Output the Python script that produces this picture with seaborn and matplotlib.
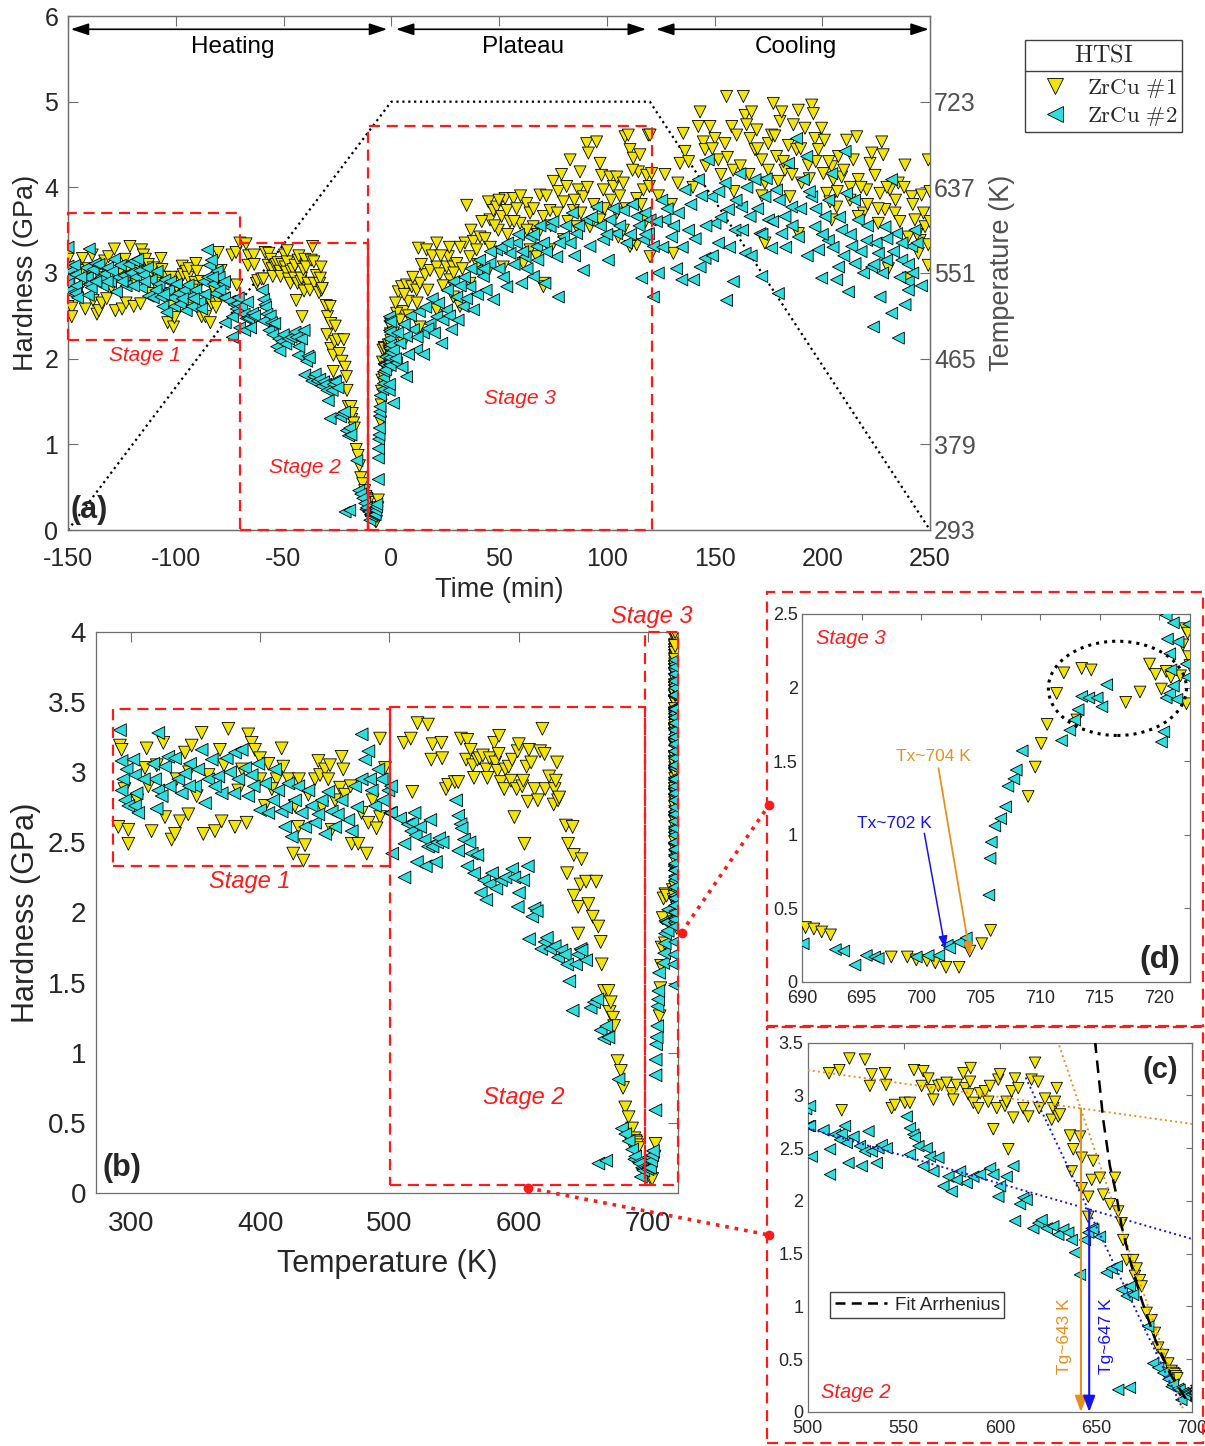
import numpy as np
import pandas as pd
import matplotlib
matplotlib.use("Agg")
import matplotlib.pyplot as plt
import seaborn as sns
from matplotlib.patches import Rectangle, Ellipse
from matplotlib.lines import Line2D
from matplotlib.ticker import FormatStrFormatter

sns.set_theme(style="white")
plt.rcParams["font.family"] = ["Liberation Sans", "DejaVu Sans"]
plt.rcParams["axes.unicode_minus"] = False
plt.rcParams["mathtext.fontset"] = "cm"

YELLOW = "#F2E500"
CYAN = "#2EDDDD"
ORANGE = "#E8901E"
BLUE = "#1414F0"
RED = "#FF1A1A"
SPINE = "#6E6E6E"
TXT = "#262626"

# ---------------- temperature program (dotted line in panel a) ----------------
prog_time = [-150, 0, 120, 250]
prog_temp = [293, 723, 723, 293]
plateau_temp = 721

# ---------------- Stage 1 (heating): (T [K], H [GPa]) ----------------
s1_zrcu1 = [(291.5,3.19),(292.8,3.16),(290.3,2.61),(298.0,2.59),(298.0,2.49),(312.2,3.17),(313.5,2.90),
            (316.0,2.58),(325.1,3.21),(326.4,2.68),(331.5,2.52),(334.1,2.56),(338.0,2.65),(341.8,3.14),
            (344.4,2.70),(347.0,3.19),(354.7,3.28),(356.0,2.56),(365.0,2.58),(368.9,3.16),(370.2,2.65),
            (375.4,3.31),(380.5,2.61),(383.1,2.87),(389.5,2.64),(390.8,3.27),(393.4,3.21),(396.0,3.16),
            (399.9,3.10),(403.7,2.76),(406.3,3.06),(412.8,2.95),(416.6,3.17),(417.9,3.04),(421.8,2.95),
            (425.6,2.42),(426.9,2.76),(429.5,2.61),(433.4,2.37),(434.7,2.48),(437.3,2.84),(442.4,2.95),
            (445.0,3.08),(446.3,2.98),(450.2,3.02),(452.7,2.95),(454.0,3.05),(455.3,2.59),(461.8,2.89),
            (463.0,3.11),(464.3,3.02),(465.6,2.84),(470.8,2.49),(475.9,2.49),(478.5,2.71),(482.4,2.42),
            (483.7,2.64),(492.7,3.24),(492.7,2.68),(496.6,3.03),(310.9,3.03),(335.4,2.95),(350.9,2.83),
            (295.0,2.88),(305.0,2.80),(360.0,2.98),(386.0,3.02),(409.0,2.88),(458.0,2.80),(487.0,2.80),
            (320.0,3.05),(345.0,3.00),(372.0,3.05),(400.0,2.95),(430.0,2.95),(448.0,2.75),(470.0,2.90),
            (490.0,2.60)]
s1_zrcu2 = [(291.5,3.30),(321.2,3.28),(478.5,3.27),(292.8,3.08),(296.7,3.02),(294.1,2.95),(292.8,2.87),
            (295.4,2.80),(298.0,2.76),(301.9,3.09),(303.1,2.98),(304.4,2.85),(303.1,2.76),(305.7,2.71),
            (317.3,3.06),(318.6,2.95),(321.2,2.87),(319.9,2.74),(323.8,2.83),(326.4,3.04),(328.9,3.11),
            (334.1,3.10),(336.7,2.95),(339.3,2.85),(341.8,2.99),(345.7,3.06),(349.6,2.90),(352.1,3.02),
            (354.7,3.16),(357.3,2.78),(359.9,2.95),(362.5,3.09),(367.6,2.97),(370.2,2.85),(374.1,3.10),
            (376.7,3.00),(380.5,3.14),(383.1,2.95),(385.7,3.16),(388.3,3.03),(390.8,2.83),(393.4,2.98),
            (398.6,3.06),(399.9,2.73),(403.7,2.92),(406.3,2.71),(411.5,3.02),(414.0,2.87),(416.6,2.72),
            (419.2,2.61),(421.8,2.92),(424.4,2.54),(426.9,2.80),(429.5,2.90),(432.1,2.71),(434.7,2.61),
            (437.3,2.87),(439.8,2.76),(442.4,2.64),(447.6,2.80),(450.2,2.56),(452.7,2.86),(455.3,2.72),
            (457.9,2.61),(463.0,2.80),(468.2,2.66),(470.8,2.58),(473.4,2.90),(478.5,2.95),(481.1,3.09),
            (483.7,3.15),(486.3,2.87),(488.8,2.76),(491.4,3.02),(494.0,2.95),(499.2,2.87),(500.4,2.71),
            (310.0,2.95),(330.0,2.90),(345.0,2.90),(365.0,2.90),(380.0,2.85),(395.0,2.90),(410.0,2.80),
            (420.0,2.75),(445.0,2.70),(460.0,2.70),(475.0,2.75),(485.0,2.95),(495.0,2.80)]

# ---------------- Stage 2 (heating) ----------------
s2_zrcu1 = [(511.1,3.21),(516.5,3.24),(521.7,3.35),(529.8,3.34),(533.3,3.20),(532.4,3.09),(540.2,3.21),
            (540.8,3.10),(517.7,2.86),(543.7,2.88),(545.4,2.91),(550.6,2.93),(553.2,2.93),(555.3,3.24),
            (560.2,3.23),(559.3,3.09),(562.8,3.16),(564.5,3.05),(565.4,2.96),(568.0,3.09),(569.7,3.10),
            (572.3,3.12),(574.9,3.02),(575.8,2.96),(577.5,3.10),(581.0,3.21),(581.9,3.07),(583.6,3.01),
            (584.5,3.13),(584.8,3.26),(586.2,2.93),(588.8,2.88),(589.7,3.02),(592.3,3.04),(594.0,2.94),
            (594.9,3.09),(596.6,2.68),(598.4,2.88),(599.2,3.15),(600.1,3.20),(602.7,2.90),(603.5,2.94),
            (604.4,2.49),(606.1,3.04),(607.0,2.79),(607.9,3.16),(609.6,3.07),(612.2,2.88),(614.8,2.80),
            (616.5,3.15),(618.3,3.31),(620.0,3.13),(620.5,2.88),(623.5,2.97),(627.0,2.77),(627.8,2.88),
            (628.7,2.94),(629.6,3.07),(630.4,2.80),(631.3,2.82),(636.5,2.62),(638.2,2.49),(637.4,2.28),
            (641.7,2.61),(642.6,2.41),(642.6,2.12),(646.0,2.04),(646.0,1.85),(647.8,2.20),(648.6,2.38),
            (652.1,2.22),(653.8,2.06),(657.3,1.97),(659.9,2.22),(661.6,1.90),(663.4,1.79),(664.2,1.63),
            (666.0,1.44),(669.4,1.44),(670.3,1.29),(671.2,1.36),(672.9,1.25),(673.8,1.19),(676.4,0.94),
            (679.0,0.87),(680.7,0.75),(682.4,0.61),(685.0,0.54),(685.9,0.37),(687.7,0.46),(689.4,0.39)]
s2_zrcu2 = [(501.2,2.90),(501.2,2.71),(502.1,2.42),(508.2,2.67),(511.6,2.49),(511.6,2.25),(514.2,2.63),
            (516.8,2.58),(517.7,2.64),(519.4,2.71),(520.3,2.55),(521.2,2.36),(523.8,2.61),(527.2,2.52),
            (528.1,2.33),(529.8,2.47),(531.6,2.66),(533.3,2.47),(535.9,2.36),(536.8,2.50),(538.5,2.53),
            (541.1,2.50),(551.5,2.80),(553.2,2.69),(555.0,2.63),(555.8,2.60),(553.2,2.44),(557.6,2.52),
            (560.2,2.33),(561.9,2.50),(563.6,2.42),(565.4,2.28),(568.0,2.41),(570.6,2.14),(573.2,2.23),
            (574.9,2.09),(577.5,2.20),(579.3,2.28),(582.7,2.17),(586.2,2.23),(589.7,2.25),(594.9,2.31),
            (596.6,2.25),(599.2,2.04),(600.1,2.14),(603.5,2.23),(607.0,2.33),(607.9,1.81),(610.5,1.97),
            (612.2,2.03),(613.9,2.01),(617.4,1.74),(620.0,1.79),(621.7,1.82),(624.4,1.74),(627.8,1.76),
            (630.4,1.68),(633.0,1.73),(635.6,1.70),(637.4,1.63),(639.1,1.51),(641.7,1.30),(644.3,1.63),
            (646.0,1.70),(647.8,1.74),(648.6,1.73),(652.1,1.66),(655.6,1.32),(658.2,1.36),(660.8,1.38),
            (661.6,0.21),(663.4,1.16),(666.0,1.10),(667.7,1.19),(667.7,0.23),(669.4,1.11),(677.2,0.81),
            (679.8,0.46),(682.4,0.42),(685.0,0.37),(687.7,0.31),(689.4,0.24)]

# ---------------- Stage 3 (heating end) ----------------
s3_zrcu1 = [(690.3,0.37),(691.0,0.36),(691.65,0.34),(692.4,0.32),(697.5,0.17),(698.85,0.17),(699.6,0.15),
            (700.5,0.145),(701.2,0.13),(702.1,0.10),(703.2,0.10),(704.1,0.21),(705.1,0.26),(705.85,0.35),
            (709.0,1.26),(709.6,1.46),(710.1,1.62),(710.6,1.75),(711.4,1.96),(712.0,2.10),(713.1,1.78),
            (713.5,2.13),(714.3,2.12),(717.2,1.90),(718.4,1.97),(719.2,2.16),(719.7,2.09),(720.2,1.99),
            (720.6,2.11),(721.0,2.07),(721.8,2.08),(722.0,2.29),(722.2,2.40),(722.5,2.21),(722.3,1.89),
            (722.4,2.37),(722.6,2.15)]
s3_zrcu2 = [(690.1,0.26),(692.8,0.22),(693.5,0.21),(694.45,0.115),(695.4,0.18),(696.1,0.17),(696.4,0.16),
            (699.6,0.17),(700.6,0.18),(701.5,0.18),(702.2,0.25),(702.4,0.23),(703.2,0.27),(703.8,0.30),
            (705.7,0.59),(705.8,0.84),(705.9,0.95),(706.2,1.06),(706.7,1.11),(707.1,1.19),(707.3,1.33),
            (707.8,1.38),(708.0,1.44),(708.5,1.57),(711.8,1.64),(712.5,1.71),(712.9,1.78),(713.2,1.85),
            (713.5,1.94),(714.1,1.93),(714.8,1.93),(715.2,1.87),(715.6,2.02),(720.2,1.63),(720.4,1.70),
            (720.6,1.93),(720.9,1.96),(721.2,2.01),(721.0,2.12),(720.9,2.23),(720.7,2.33),(720.6,2.49),
            (721.2,2.44),(721.5,1.92),(721.6,2.31),(722.4,2.07),(722.3,2.16),(722.5,2.43)]

# ---------------- Plateau + cooling: (time [min], H [GPa]) ----------------
iso_zrcu1 = [(3.3,2.78),(4.8,2.84),(7.1,2.86),(9.5,2.84),(11.8,2.80),(5.6,2.55),(2.5,2.53),(7.9,2.67),
             (13.3,2.88),(15.7,2.98),(18.0,3.03),(21.1,3.07),(12.6,3.29),(16.4,3.27),(21.1,3.35),(22.6,2.99),
             (25.7,3.07),(26.5,3.19),(28.8,3.07),(30.4,3.11),(27.3,2.92),(31.9,2.61),(34.2,3.35),(35.0,3.79),
             (36.5,3.19),(38.1,3.37),(39.6,3.27),(41.2,3.42),(43.5,3.40),(45.1,3.83),(45.8,3.62),(47.4,3.73),
             (48.9,3.77),(49.7,3.50),(51.2,3.66),(52.8,3.87),(53.6,3.73),(55.1,3.60),(56.7,3.87),(58.2,3.75),
             (59.8,3.58),(62.8,3.81),(64.4,3.70),(65.9,3.54),(69.0,3.91),(70.6,2.88),(70.6,3.66),(73.7,3.73),
             (75.2,4.07),(77.5,3.95),(79.9,3.83),(81.4,4.01),(83.0,4.32),(84.5,3.73),(86.8,3.97),(87.6,4.18),
             (89.1,3.89),(90.7,4.51),(91.5,4.40),(95.3,4.53),(96.9,4.28),(97.6,4.14),(98.4,3.97),(101.5,4.12),
             (103.1,4.01),(104.6,4.12),(105.4,3.42),(107.7,4.05),(108.5,4.59),(110.0,4.61),(110.8,4.44),
             (112.3,4.34),(113.9,3.87),(114.7,4.18),(115.4,4.38),(117.0,3.97),(118.5,4.14),(119.3,4.61),
             (119.8,4.01),(113.9,3.33),(110.8,3.31),(107.7,3.50),(104.6,3.70),(96.9,3.62),(92.2,3.54),
             (86.0,3.54),(79.9,3.39),(73.7,3.27),(67.5,3.19),(61.3,3.11),(52.0,3.07),(44.3,2.99),(36.5,2.88),
             (28.8,2.72),(21.1,2.57),(13.3,2.37),(5.6,2.18),(70.6,2.84),(64.4,3.27),(120.1,3.19),
             (1,2.30),(2,2.65),(4,2.45),(6,2.75),(8,2.50),(10,2.95),(12,2.65),(14,3.10),(17,2.80),(19,3.20),
             (23,3.20),(24,2.85),(27,3.30),(29,3.00),(32,3.30),(33,3.05),(37,3.50),(40,3.10),(42,3.60),
             (46,3.30),(48,3.55),(50,3.85),(54,3.45),(57,3.60),(60,3.90),(63,3.50),(66,3.75),(68,3.45),
             (72,3.90),(74,3.55),(77,3.70),(79,4.15),(82,3.60),(85,3.85),(88,3.70),(91,4.00),(94,3.80),
             (99,3.75),(102,3.85),(106,3.90),(109,3.75),(112,4.20),(116,3.80),(118,3.60),
             (120.1,4.61),(120.8,4.16),(130.9,3.23),(135.5,4.63),(134.0,4.28),(136.3,4.42),(142.5,4.71),
             (143.3,4.88),(144.8,4.53),(145.6,4.44),(147.9,4.71),(150.2,4.57),(151.8,4.32),(154.9,4.51),
             (155.6,5.06),(158.0,4.71),(158.7,4.20),(160.3,4.61),(163.4,5.06),(164.2,4.84),(164.9,4.73),
             (167.2,4.88),(166.5,4.57),(168.8,4.44),(169.6,4.67),(171.9,4.32),(173.4,4.05),(175.0,4.51),
             (176.5,4.61),(177.3,4.98),(178.8,4.36),(179.6,4.07),(180.4,4.77),(181.2,4.88),(182.7,4.20),
             (184.3,4.49),(185.0,3.89),(186.6,4.73),(188.1,4.44),(188.9,4.90),(190.4,4.05),(192.0,4.69),
             (193.5,4.26),(195.1,4.96),(195.9,4.86),(196.6,4.57),(198.2,4.44),(199.7,4.69),(200.5,4.16),
             (202.1,3.93),(203.6,3.83),(204.4,4.24),(205.1,4.09),(206.7,3.77),(207.5,4.36),(209.0,4.12),
             (211.3,4.55),(212.9,3.85),(214.4,4.32),(216.0,4.59),(216.7,4.09),(219.1,3.70),(220.6,3.97),
             (222.2,4.28),(224.5,4.14),(226.8,3.93),(227.6,4.53),(228.3,4.38),(229.1,3.74),(231.4,3.97),
             (233.8,3.70),(235.3,4.05),(238.4,4.26),(239.9,3.42),(241.5,3.89),(243.0,3.62),(245.4,3.38),
             (246.1,3.91),(247.7,3.54),(249.2,4.32),(250.0,3.95),(249.2,3.33),(249.2,3.09),(244.6,3.23),
             (239.9,2.94),(230.7,3.05),(173.4,3.35),(188.9,3.46),(204.4,3.62),(216.7,3.66),(226.0,3.58),
             (124,3.90),(127,4.15),(130,3.80),(133,4.05),(138,4.30),(140,4.00),(146,4.25),(149,4.45),
             (153,4.15),(156,4.35),(159,3.95),(162,4.25),(166,4.15),(170,4.45),(172,3.90),(175,4.20),
             (178,4.60),(182,4.30),(186,4.15),(190,4.45),(194,4.10),(197,4.30),(201,4.55),(203,4.30),
             (207,3.95),(210,4.20),(213,4.00),(218,4.00),(221,3.80),(223,4.40),(226,3.75),(230,4.00),
             (234,3.85),(236,3.60),(238,4.00),(242,3.80),(244,3.45),(247,3.70),(250,3.60)]
iso_zrcu2 = [(0.97,1.48),(0.97,2.10),(4.06,2.18),(7.1,2.26),(10.25,2.34),(2.5,1.95),(7.1,1.79),(11.8,2.10),
             (14.9,2.30),(18.0,2.41),(21.1,2.49),(23.4,2.18),(25.7,2.57),(28.0,2.34),(30.4,2.72),(33.4,2.61),
             (36.5,2.84),(38.1,2.57),(39.6,3.03),(42.7,2.96),(45.8,3.11),(47.4,2.69),(48.9,3.27),(53.6,2.84),
             (55.1,3.23),(58.2,3.35),(60.5,2.88),(62.1,3.19),(64.4,3.42),(65.9,2.96),(67.5,3.31),(70.6,3.35),
             (71.3,2.88),(73.7,3.54),(76.8,3.19),(77.5,2.72),(79.9,3.42),(83.0,3.35),(86.0,3.46),(89.1,3.03),
             (90.7,3.62),(92.2,3.31),(95.3,3.77),(98.4,3.39),(100.7,3.15),(101.5,3.62),(104.6,3.46),
             (107.7,3.73),(109.2,3.35),(113.9,3.66),(116.2,2.94),(117.0,3.39),(117.75,3.70),(119.3,3.46),
             (2,2.00),(3,2.30),(5,1.90),(6,2.40),(8,2.05),(9,2.50),(12,2.25),(13,2.55),(15,2.05),(16,2.60),
             (17,2.35),(19,2.70),(20,2.30),(22,2.65),(24,2.45),(26,2.80),(27,2.50),(29,2.90),(31,2.45),
             (32,2.85),(34,2.95),(35,2.70),(37,3.05),(40,2.75),(41,3.15),(43,3.05),(44,2.80),(46,3.25),
             (50,3.05),(51,3.30),(52,2.95),(54,3.35),(57,3.10),(59,3.45),(61,3.25),(63,3.05),(66,3.45),
             (68,3.15),(69,3.55),(72,3.25),(75,3.60),(78,3.35),(81,3.55),(84,3.70),(85,3.20),(87,3.55),
             (93,3.65),(97,3.55),(100,3.45),(103,3.75),(106,3.55),(111,3.45),(112,3.80),(115,3.55),(118,3.45),
             (120.1,3.62),(121.6,2.72),(121.6,3.31),(123.9,3.00),(125.5,3.85),(127.0,3.62),(130.1,3.42),
             (132.4,3.05),(133.2,3.70),(134.8,2.92),(136.3,3.97),(137.9,3.50),(140.2,2.92),(142.5,4.09),
             (143.3,3.07),(145.6,3.17),(147.1,4.32),(148.7,3.89),(150.2,3.58),(151.8,3.35),(154.9,4.05),
             (155.6,2.68),(156.4,3.74),(158.7,2.90),(159.5,3.50),(161.8,4.16),(162.6,3.77),(164.2,3.23),
             (166.5,3.66),(168.8,4.09),(171.1,3.46),(171.9,2.96),(173.4,3.89),(175.0,3.62),(176.5,3.29),
             (178.8,3.97),(179.6,2.76),(181.2,3.46),(182.7,3.66),(184.3,4.28),(185.8,3.77),(188.1,4.57),
             (188.9,3.42),(191.2,4.09),(192.8,4.36),(195.1,3.89),(196.6,3.54),(198.2,3.27),(199.7,2.94),
             (201.3,3.66),(202.8,3.38),(204.4,4.16),(206.7,2.92),(207.5,3.07),(209.0,3.50),(210.6,4.42),
             (211.3,3.93),(212.1,2.78),(213.7,3.31),(215.2,3.11),(216.7,3.62),(219.1,3.00),(220.6,3.38),
             (222.9,3.07),(223.7,2.37),(226.0,3.23),(226.8,2.72),(229.1,3.54),(229.9,3.15),(232.2,2.53),
             (232.2,4.09),(234.5,3.46),(235.3,2.24),(236.9,3.15),(238.4,2.63),(239.9,2.90),(241.5,3.31),
             (243.0,3.50),(239.9,2.80),
             (123,3.60),(126,3.30),(128,3.75),(131,3.55),(135,3.30),(139,3.80),(141,3.40),(144,3.90),
             (146,3.55),(149,3.20),(152,3.95),(153,3.65),(157,3.30),(160,3.85),(163,3.50),(165,4.00),
             (167,3.20),(170,3.75),(172,3.45),(174,4.10),(177,3.60),(180,3.85),(183,3.30),(186,3.55),
             (190,3.75),(193,3.20),(194,3.95),(197,3.75),(200,3.45),(203,3.85),(205,3.30),(208,3.65),
             (210,3.20),(213,3.45),(215,3.85),(218,3.25),(221,3.55),(224,3.10),(225,3.35),(228,3.00),
             (230,3.40),(233,3.25),(236,2.95),(237,3.35),(240,3.10),(242,3.00),(244,3.35),(246,2.85)]

# ---------------- fitted / guide lines in panel c ----------------
arrh_T = [649.5, 653.8, 657.3, 660.4, 663.4, 668, 674, 681, 689, 697]
arrh_H = [3.52, 2.77, 2.33, 2.08, 1.76, 1.42, 1.05, 0.68, 0.35, 0.12]
glass1_T, glass1_H = [500, 700], [3.24, 2.73]
melt1_T, melt1_H = [630, 695.5], [3.52, 0.02]
glass2_T, glass2_H = [500, 700], [2.69, 1.64]
melt2_T, melt2_H = [613.4, 694.6], [3.17, 0.05]
Tg1, Tg1_H = 642.2, 2.877
Tg2, Tg2_H = 646.5, 1.92

LAB1, LAB2 = "ZrCu #1", "ZrCu #2"

heat1 = np.array(s1_zrcu1 + s2_zrcu1 + s3_zrcu1)
heat2 = np.array(s1_zrcu2 + s2_zrcu2 + s3_zrcu2)
iso1 = np.array(iso_zrcu1)
iso2 = np.array(iso_zrcu2)

# heating times from the linear ramp of the temperature program
heat_t1 = np.interp(heat1[:, 0], prog_temp[:2], prog_time[:2])
heat_t2 = np.interp(heat2[:, 0], prog_temp[:2], prog_time[:2])

df_time = pd.concat([
    pd.DataFrame({"x": heat_t1, "y": heat1[:, 1], "s": LAB1}),
    pd.DataFrame({"x": iso1[:, 0], "y": iso1[:, 1], "s": LAB1}),
    pd.DataFrame({"x": heat_t2, "y": heat2[:, 1], "s": LAB2}),
    pd.DataFrame({"x": iso2[:, 0], "y": iso2[:, 1], "s": LAB2}),
], ignore_index=True)

pl1 = iso1[iso1[:, 0] <= 120]
pl2 = iso2[iso2[:, 0] <= 120]
df_temp = pd.concat([
    pd.DataFrame({"x": heat1[:, 0], "y": heat1[:, 1], "s": LAB1}),
    pd.DataFrame({"x": np.full(len(pl1), plateau_temp), "y": pl1[:, 1], "s": LAB1}),
    pd.DataFrame({"x": heat2[:, 0], "y": heat2[:, 1], "s": LAB2}),
    pd.DataFrame({"x": np.full(len(pl2), plateau_temp), "y": pl2[:, 1], "s": LAB2}),
], ignore_index=True)
df_heat = pd.concat([
    pd.DataFrame({"x": heat1[:, 0], "y": heat1[:, 1], "s": LAB1}),
    pd.DataFrame({"x": heat2[:, 0], "y": heat2[:, 1], "s": LAB2}),
], ignore_index=True)

PAL = {LAB1: YELLOW, LAB2: CYAN}
MK = {LAB1: "v", LAB2: "<"}


def scatter(ax, df, s):
    sns.scatterplot(data=df, x="x", y="y", hue="s", style="s", palette=PAL, markers=MK,
                    s=s, edgecolor="black", linewidth=0.6, legend=False, ax=ax, zorder=3)
    ax.set_xlabel("")
    ax.set_ylabel("")


def style(ax, fs, length, top=True, right=True, padx=6, pady=4):
    ax.tick_params(direction="in", length=length, width=0.8, top=top, right=right,
                   color=SPINE, labelcolor=TXT, labelsize=fs)
    ax.tick_params(axis="x", pad=padx)
    ax.tick_params(axis="y", pad=pady)
    for sp in ax.spines.values():
        sp.set_color(SPINE)
        sp.set_linewidth(0.9)
    ax.yaxis.set_major_formatter(FormatStrFormatter("%g"))
    ax.xaxis.set_major_formatter(FormatStrFormatter("%g"))


def box(ax, x0, x1, y0, y1):
    ax.add_patch(Rectangle((x0, y0), x1 - x0, y1 - y0, fill=False, ec=RED, lw=1.6,
                           ls=(0, (5, 3)), clip_on=False, zorder=4))


fig = plt.figure(figsize=(12.05, 14.46), dpi=100)
W, H = 1205.0, 1446.0

# ======================= panel (a) =======================
axa = fig.add_axes([68 / W, 1 - 530 / H, 862 / W, 514 / H])
axT = axa.twinx()
axa.set_zorder(axT.get_zorder() + 1)
axa.patch.set_visible(False)
axT.plot(prog_time, prog_temp, ls=":", color="black", lw=1.6)
axT.set_ylim(293, 293 + 6 * 86)
axT.set_yticks([293, 379, 465, 551, 637, 723])
axT.tick_params(direction="in", length=7, width=0.8, right=True, color=SPINE,
                labelcolor="#505050", labelsize=18, pad=3)
for sp in axT.spines.values():
    sp.set_color(SPINE)
    sp.set_linewidth(0.9)
axT.set_ylabel("Temperature (K)", fontsize=19.5, color="#505050")
axT.yaxis.set_label_coords(1.068, 0.5)

scatter(axa, df_time, 75)
axa.set_xlim(-150, 250)
axa.set_ylim(0, 6)
axa.set_xticks(np.arange(-150, 251, 50))
axa.set_yticks(np.arange(0, 7, 1))
style(axa, 18, 7, top=True, right=False, padx=12, pady=7)
axa.set_xlabel("Time (min)", fontsize=19.5, color=TXT)
axa.set_ylabel("Hardness (GPa)", fontsize=19.5, color=TXT)
axa.xaxis.set_label_coords(0.5, -0.091)
axa.yaxis.set_label_coords(-0.034, 0.5)

box(axa, -150, -70.2, 2.22, 3.70)
box(axa, -70.2, -10.8, 0, 3.35)
box(axa, -10.8, 121, 0, 4.72)
axa.plot([-10.8, -10.8], [0, 3.35], color=RED, lw=1.6, zorder=4)
for xa, xb in [(-148.7, -1.9), (2.2, 118.2), (122.9, 249.4)]:
    axa.annotate("", xy=(xb, 5.845), xytext=(xa, 5.845),
                 arrowprops=dict(arrowstyle="<|-|>,head_length=0.9,head_width=0.3",
                                 color="black", lw=1.2, shrinkA=0, shrinkB=0))
for xc, lab in [(-73.4, "Heating"), (61.1, "Plateau"), (187.6, "Cooling")]:
    axa.text(xc, 5.64, lab, fontsize=17.5, ha="center", va="center", color="black")
axa.text(-114.3, 2.04, "Stage 1", color=RED, style="italic", fontsize=15, ha="center", va="center")
axa.text(-40.0, 0.735, "Stage 2", color=RED, style="italic", fontsize=15, ha="center", va="center")
axa.text(59.7, 1.54, "Stage 3", color=RED, style="italic", fontsize=15, ha="center", va="center")
axa.text(-140.3, 0.23, "(a)", fontsize=22, fontweight="bold", ha="center", va="center", zorder=6)

# legend of panel (a)
hnd = [Line2D([], [], marker="v", ls="none", mfc=YELLOW, mec="black", mew=0.6, ms=11),
       Line2D([], [], marker="<", ls="none", mfc=CYAN, mec="black", mew=0.6, ms=11)]
leg = fig.legend(hnd, [r"$\mathrm{ZrCu\ \#1}$", r"$\mathrm{ZrCu\ \#2}$"],
                 title=r"$\mathrm{HTSI}$", loc="upper left",
                 bbox_to_anchor=(1025 / W, 1 - 40 / H), bbox_transform=fig.transFigure,
                 fontsize=16.5, title_fontsize=17.5, frameon=True, fancybox=False,
                 edgecolor="#404040", framealpha=1, borderaxespad=0, borderpad=0.2,
                 handletextpad=0.3, labelspacing=0.15, handlelength=2.2)
leg.get_frame().set_linewidth(1.0)
leg._legend_box.sep = 7

# ======================= panel (b) =======================
axb = fig.add_axes([96 / W, 1 - 1193 / H, 582 / W, 561 / H])
scatter(axb, df_temp, 85)
axb.set_xlim(273, 723.2)
axb.set_ylim(0, 4)
axb.set_xticks([300, 400, 500, 600, 700])
axb.set_yticks(np.arange(0, 4.01, 0.5))
style(axb, 20, 7, padx=13, pady=7)
axb.set_xlabel("Temperature (K)", fontsize=22, color=TXT)
axb.set_ylabel("Hardness (GPa)", fontsize=22, color=TXT)
axb.xaxis.set_label_coords(0.5, -0.1)
axb.yaxis.set_label_coords(-0.094, 0.5)
box(axb, 286, 500.5, 2.33, 3.45)
box(axb, 500.5, 697.8, 0.057, 3.465)
box(axb, 697.8, 723, 0.057, 4.0)
axb.text(392.1, 2.22, "Stage 1", color=RED, style="italic", fontsize=17, ha="center", va="center")
axb.text(604.1, 0.68, "Stage 2", color=RED, style="italic", fontsize=17, ha="center", va="center")
axb.text(703.2, 4.11, "Stage 3", color=RED, style="italic", fontsize=17, ha="center", va="center")
axb.text(293.1, 0.18, "(b)", fontsize=22, fontweight="bold", ha="center", va="center")

# ======================= panel (d) =======================
axd = fig.add_axes([802 / W, 1 - 982 / H, 388 / W, 368 / H])
scatter(axd, df_heat, 72)
axd.set_xlim(690, 722.6)
axd.set_ylim(0, 2.5)
axd.set_xticks(np.arange(690, 721, 5))
axd.set_yticks(np.arange(0, 2.51, 0.5))
style(axd, 13, 4, padx=6, pady=3)
axd.add_patch(Ellipse((716.5, 1.995), 11.6, 0.64, fill=False, ls=":", lw=2.2, ec="black", zorder=5))
axd.text(694.1, 2.335, "Stage 3", color=RED, style="italic", fontsize=14.5, ha="center", va="center")
axd.text(720.1, 0.15, "(d)", fontsize=23, fontweight="bold", ha="center", va="center")
axd.annotate("", xy=(702.03, 0.229), xytext=(700.28, 1.01),
             arrowprops=dict(arrowstyle="-|>,head_length=0.6,head_width=0.22", color=BLUE, lw=1.1,
                             shrinkA=0, shrinkB=0), zorder=6)
axd.annotate("", xy=(704.12, 0.183), xytext=(701.47, 1.452),
             arrowprops=dict(arrowstyle="-|>,head_length=0.6,head_width=0.22", color=ORANGE, lw=1.3,
                             shrinkA=0, shrinkB=0), zorder=6)
axd.text(697.8, 1.075, "Tx~702 K", color=BLUE, fontsize=12.5, ha="center", va="center")
axd.text(701.05, 1.53, "Tx~704 K", color=ORANGE, fontsize=12.5, ha="center", va="center")

# ======================= panel (c) =======================
axc = fig.add_axes([807.7 / W, 1 - 1412 / H, 384.3 / W, 369.3 / H])
scatter(axc, df_heat, 68)
axc.set_xlim(500, 700)
axc.set_ylim(0, 3.5)
axc.set_xticks(np.arange(500, 701, 50))
axc.set_yticks(np.arange(0, 3.51, 0.5))
style(axc, 13, 4, padx=6, pady=3)
axc.plot(glass1_T, glass1_H, ls=":", color=ORANGE, lw=1.4, zorder=5)
axc.plot(melt1_T, melt1_H, ls=":", color=ORANGE, lw=1.4, zorder=5)
axc.plot(glass2_T, glass2_H, ls=":", color=BLUE, lw=1.4, zorder=5)
axc.plot(melt2_T, melt2_H, ls=":", color=BLUE, lw=1.4, zorder=5)
axc.plot(arrh_T, arrh_H, ls=(0, (5, 3)), color="black", lw=1.8, zorder=5)
axc.annotate("", xy=(Tg1, 0), xytext=(Tg1, Tg1_H),
             arrowprops=dict(arrowstyle="-|>,head_length=0.8,head_width=0.3", color=ORANGE, lw=1.5,
                             shrinkA=0, shrinkB=0), zorder=6)
axc.annotate("", xy=(Tg2, 0), xytext=(Tg2, Tg2_H),
             arrowprops=dict(arrowstyle="-|>,head_length=0.8,head_width=0.3", color=BLUE, lw=1.5,
                             shrinkA=0, shrinkB=0), zorder=6)
axc.text(633.4, 0.72, "Tg~643 K", color=ORANGE, rotation=90, fontsize=12.5, ha="center", va="center")
axc.text(655.6, 0.72, "Tg~647 K", color=BLUE, rotation=90, fontsize=12.5, ha="center", va="center")
axc.text(683.3, 3.24, "(c)", fontsize=21, fontweight="bold", ha="center", va="center")
axc.text(525.1, 0.186, "Stage 2", color=RED, style="italic", fontsize=14.5, ha="center", va="center")
lc = axc.legend(handles=[Line2D([], [], color="black", ls=(0, (4, 2.5)), lw=1.8)], labels=["Fit Arrhenius"],
                loc="lower left", bbox_to_anchor=(0.058, 0.254), borderaxespad=0, fancybox=False,
                edgecolor="#404040", framealpha=1, fontsize=13.5, handlelength=2.8, borderpad=0.25,
                handletextpad=0.4)
lc.get_frame().set_linewidth(1.0)

# ======================= inset frames and connectors =======================
fig.add_artist(Rectangle((767 / W, 1 - 1026 / H), 436 / W, 434 / H, transform=fig.transFigure,
                         fill=False, ec=RED, lw=1.6, ls=(0, (5, 3))))
fig.add_artist(Rectangle((767 / W, 1 - 1443 / H), 436 / W, 416 / H, transform=fig.transFigure,
                         fill=False, ec=RED, lw=1.6, ls=(0, (5, 3))))
for (x0, y0), (x1, y1) in [((681.5, 932.5), (769, 805)), ((528, 1188), (769, 1235))]:
    fig.add_artist(Line2D([x0 / W, x1 / W], [1 - y0 / H, 1 - y1 / H], transform=fig.transFigure,
                          color=RED, ls=":", lw=2.6, zorder=8))
    fig.add_artist(Line2D([x0 / W, x1 / W], [1 - y0 / H, 1 - y1 / H], transform=fig.transFigure,
                          color=RED, ls="none", marker="o", ms=6, zorder=8))

# separator line under the legend title
fig.canvas.draw()
rend = fig.canvas.get_renderer()
lb = leg.get_window_extent(rend)
tb = leg.get_title().get_window_extent(rend)
ysep = (tb.y0 - 4) / fig.bbox.height
fig.add_artist(Line2D([lb.x0 / fig.bbox.width, lb.x1 / fig.bbox.width], [ysep, ysep],
                      transform=fig.transFigure, color="#404040", lw=1.0, zorder=20))

fig.savefig("out.png", dpi=100)
